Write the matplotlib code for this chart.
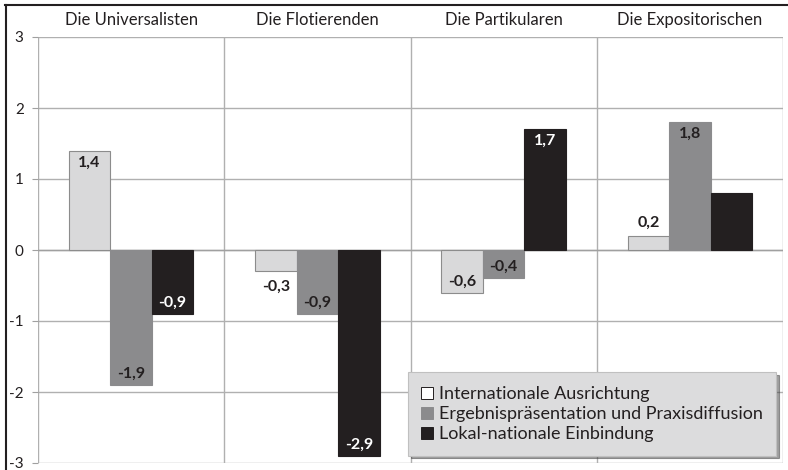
import matplotlib
matplotlib.use("Agg")
import matplotlib.pyplot as plt
from matplotlib.lines import Line2D
import numpy as np

plt.rcParams['font.family'] = ['Lato', 'DejaVu Sans']

categories = ["Die Universalisten", "Die Flotierenden", "Die Partikularen", "Die Expositorischen"]
series_names = ["Internationale Ausrichtung", "Ergebnispräsentation und Praxisdiffusion", "Lokal-nationale Einbindung"]
international = [1.4, -0.3, -0.6, 0.2]
ergebnis = [-1.9, -0.9, -0.4, 1.8]
lokal = [-0.9, -2.9, 1.7, 0.8]
show_label_lokal = [True, True, True, False]
yticks = [3, 2, 1, 0, -1, -2, -3]

colors = ["#d9d9da", "#8b8b8d", "#231f20"]
edges = ["#8c8c8c", "#8b8b8d", "#231f20"]
label_colors = ["#231f20", "#231f20", "white"]

W, H = 788, 470
fig = plt.figure(figsize=(W / 100, H / 100), dpi=100)
ax = fig.add_axes([38 / W, 1 - 463 / H, (783 - 38) / W, (463 - 37) / H])

x = np.arange(len(categories))
bw = 0.223
series = [international, ergebnis, lokal]
for i, vals in enumerate(series):
    xs = x + (i - 1) * bw
    ax.bar(xs, vals, width=bw, color=colors[i], edgecolor=edges[i], linewidth=0.8, zorder=3)
    for j, v in enumerate(vals):
        if i == 2 and not show_label_lokal[j]:
            continue
        txt = f"{v:.1f}".replace(".", ",")
        if abs(v) < 0.35:
            off = 4 if v > 0 else -6
            va = 'bottom' if v > 0 else 'top'
            col = "#231f20"
        else:
            off = -3.5 if v > 0 else 3
            va = 'top' if v > 0 else 'bottom'
            col = label_colors[i]
        ax.annotate(txt, (xs[j], v), xytext=(0, off), textcoords='offset points',
                    ha='center', va=va, fontsize=11.5, fontweight='bold', color=col, zorder=4)

ax.set_xlim(-0.5, len(categories) - 0.5)
ax.set_ylim(-3, 3)
ax.set_yticks(yticks)
ax.set_yticklabels([str(t) for t in yticks], fontsize=11, color="#231f20")
ax.tick_params(axis='y', length=4.3, width=0.8, color="#a0a0a0", pad=6)
ax.set_xticks([])
for b in np.arange(-0.5, len(categories), 1.0):
    ax.axvline(b, color="#b0b0b0", linewidth=1.0, zorder=1)
for t in yticks:
    ax.axhline(t, color="#b0b0b0", linewidth=1.0, zorder=1)
ax.axhline(0, color="#a0a0a0", linewidth=1.0, zorder=2)
for s in ax.spines.values():
    s.set_visible(False)

for j, c in enumerate(categories):
    ax.annotate(c, (j, 3), xytext=(0, 12.5), textcoords='offset points',
                ha='center', va='center', fontsize=12, color="#231f20", annotation_clip=False)

handles = [Line2D([], [], marker='s', linestyle='none', markersize=8,
                  markerfacecolor=["white", colors[1], colors[2]][i],
                  markeredgecolor=["#231f20", colors[1], colors[2]][i], markeredgewidth=0.7)
           for i in range(3)]
leg = fig.legend(handles, series_names, loc='center',
                 bbox_to_anchor=(408 / W, 1 - 458 / H, (776 - 408) / W, (458 - 370) / H),
                 fontsize=13, frameon=True, fancybox=False, shadow=True,
                 facecolor="#dcdcdd", edgecolor="#c0c0c0", handlelength=0.6,
                 handletextpad=0.35, labelspacing=0.22, borderpad=0.75, borderaxespad=0)
leg.get_frame().set_linewidth(0.8)
for t in leg.get_texts():
    t.set_color("#231f20")

fig.add_artist(Line2D([5 / W, 1.0], [1 - 5 / H, 1 - 5 / H], transform=fig.transFigure,
                      color="#231f20", linewidth=1.5))
fig.add_artist(Line2D([6 / W, 6 / W], [0.0, 1 - 5 / H], transform=fig.transFigure,
                      color="#231f20", linewidth=1.5))

fig.savefig("out.png", dpi=100)
